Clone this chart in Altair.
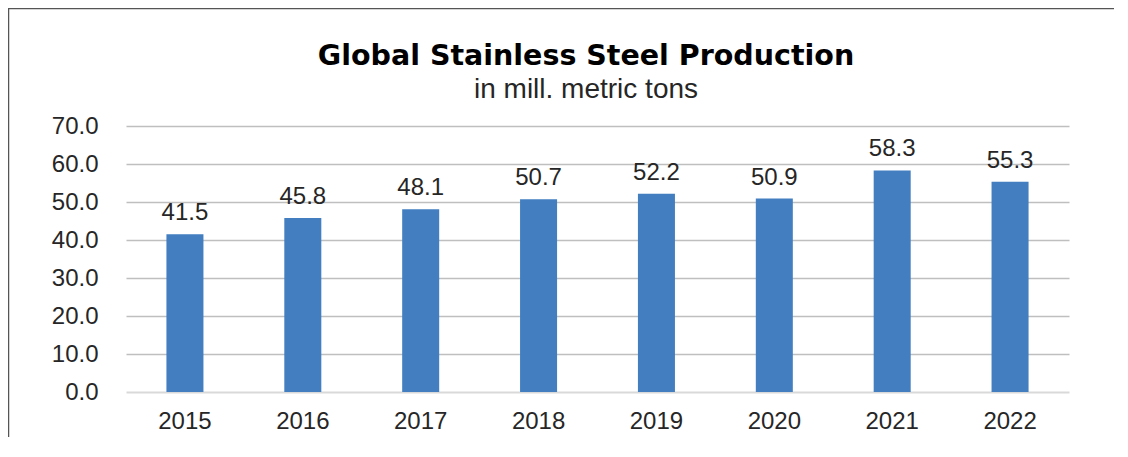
import altair as alt
import pandas as pd

years = ["2015", "2016", "2017", "2018", "2019", "2020", "2021", "2022"]
production = [41.5, 45.8, 48.1, 50.7, 52.2, 50.9, 58.3, 55.3]
y_ticks = [0, 10, 20, 30, 40, 50, 60, 70]

df = pd.DataFrame({"year": years, "value": production})

FONT = "Liberation Sans"
TXT = "#262626"

x_enc = alt.X(
    "year:N",
    sort=years,
    scale=alt.Scale(paddingInner=0.686, paddingOuter=0.343),
    axis=alt.Axis(
        title=None, labelAngle=0, domain=False, ticks=False, tickSize=0,
        labelFontSize=24, labelFont=FONT, labelColor=TXT, labelPadding=17,
    ),
)
y_enc = alt.Y(
    "value:Q",
    scale=alt.Scale(domain=[0, 70], nice=False),
    axis=alt.Axis(
        title=None, values=y_ticks, format=".1f", domain=False, ticks=False,
        tickSize=0, labelFontSize=24, labelFont=FONT, labelColor=TXT,
        labelPadding=28,
        gridColor={"condition": {"test": "datum.value === 0", "value": "#D9D9D9"},
                   "value": "#BFBFBF"},
        gridWidth={"condition": {"test": "datum.value === 0", "value": 2},
                   "value": 1.3},
    ),
)

base = alt.Chart(df)
bars = base.mark_bar(color="#427EC0").encode(x=x_enc, y=y_enc)
labels = base.mark_text(
    dy=-14, baseline="alphabetic", fontSize=24, font=FONT, color=TXT
).encode(x=x_enc, y=y_enc, text=alt.Text("value:Q", format=".1f"))

frame = alt.Chart(pd.DataFrame({"a": [0]})).mark_rect(
    fill=None, filled=False, stroke="#555555", strokeWidth=1.5
).encode(
    x=alt.value(-117.5), x2=alt.value(1200),
    y=alt.value(-117.5), y2=alt.value(600),
)

chart = alt.layer(bars, labels, frame).properties(
    width=943,
    height=266,
    background="white",
    padding={"left": 118, "top": 118, "right": 45, "bottom": 45},
    autosize=alt.AutoSizeParams(type="none"),
    title=alt.TitleParams(
        text="Global Stainless Steel Production",
        subtitle="in mill. metric tons",
        font="DejaVu Sans", fontSize=28.5, fontWeight="bold", color="#000000",
        subtitleFont=FONT, subtitleFontSize=28, subtitleColor=TXT,
        subtitlePadding=5, anchor="middle", frame="group", dx=-11.5, offset=-96,
    ),
).configure_view(stroke=None)

chart.save("out.html", embed_options={"renderer": "svg", "actions": False})
